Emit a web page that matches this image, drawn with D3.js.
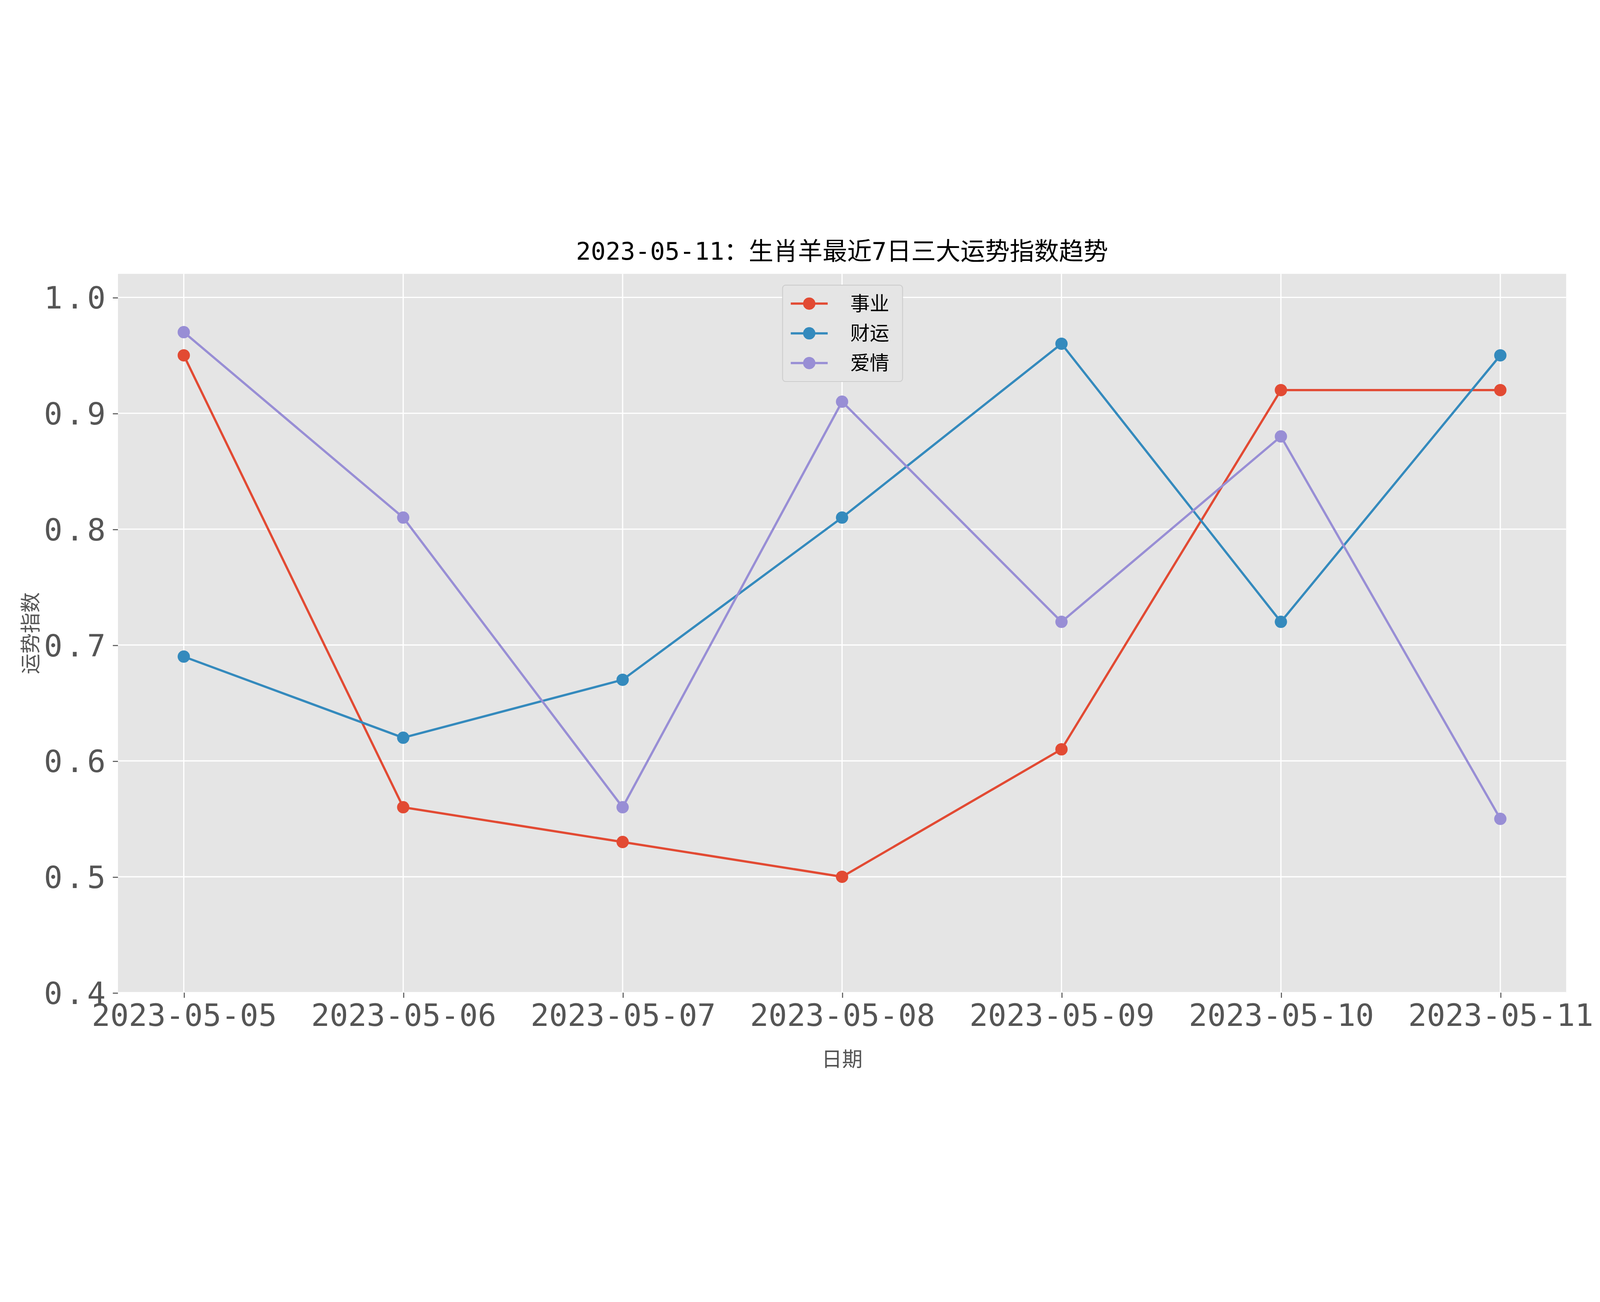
<!DOCTYPE html>
<html><head><meta charset="utf-8">
<script src="https://cdn.jsdelivr.net/npm/d3@7"></script>
<style>html,body{margin:0;padding:0;background:#fff;overflow:hidden}svg{display:block;width:100vw;height:100vh}</style></head>
<body><svg id="c" viewBox="0 0 1560 839.6" preserveAspectRatio="xMidYMid meet"></svg>
<script>
const dates=["2023-05-05","2023-05-06","2023-05-07","2023-05-08","2023-05-09","2023-05-10","2023-05-11"];
const career=[0.95,0.56,0.53,0.50,0.61,0.92,0.92];
const wealth=[0.69,0.62,0.67,0.81,0.96,0.72,0.95];
const love=[0.97,0.81,0.56,0.91,0.72,0.88,0.55];
const yTicks=[0.4,0.5,0.6,0.7,0.8,0.9,1.0];
const series=[{name:"事业",v:career,c:"#E24A33"},{name:"财运",v:wealth,c:"#348ABD"},{name:"爱情",v:love,c:"#988ED5"}];
const F='"DejaVu Sans Mono","Noto Sans CJK SC",sans-serif';
const svg=d3.select("#c");
const L=115,R=1527,T=52,B=753;
const x=d3.scaleLinear().domain([-0.3,6.3]).range([L,R]);
const y=d3.scaleLinear().domain([0.4,1.0203]).range([B,T]);
svg.append("rect").attr("x",L).attr("y",T).attr("width",R-L).attr("height",B-T).attr("fill","#E5E5E5");
const g=svg.append("g");
dates.forEach((d,i)=>g.append("line").attr("x1",x(i)).attr("x2",x(i)).attr("y1",T).attr("y2",B).attr("stroke","#fff").attr("stroke-width",1.2));
yTicks.forEach(t=>g.append("line").attr("x1",L).attr("x2",R).attr("y1",y(t)).attr("y2",y(t)).attr("stroke","#fff").attr("stroke-width",1.2));
const xa=svg.append("g").attr("transform",`translate(0,${B})`).call(d3.axisBottom(x).tickValues(d3.range(7)).tickFormat(i=>dates[i]).tickSize(5).tickPadding(2));
const ya=svg.append("g").attr("transform",`translate(${L},0)`).call(d3.axisLeft(y).tickValues(yTicks).tickFormat(d3.format(".1f")).tickSize(5).tickPadding(4));
[xa,ya].forEach(a=>{a.select(".domain").remove();a.selectAll("line").attr("stroke","#555");a.selectAll("text").attr("fill","#555").attr("font-size",30).attr("font-family",F);});
xa.selectAll("text").attr("dy","0.85em");
ya.selectAll("text").attr("dy","0.35em").attr("letter-spacing",3);
series.forEach(s=>{
  svg.append("path").datum(s.v).attr("fill","none").attr("stroke",s.c).attr("stroke-width",2.2)
   .attr("d",d3.line().x((d,i)=>x(i)).y(d=>y(d)));
  svg.selectAll(null).data(s.v).enter().append("circle").attr("cx",(d,i)=>x(i)).attr("cy",d=>y(d)).attr("r",6).attr("fill",s.c);
});
svg.append("text").attr("x",(L+R)/2).attr("y",38).attr("text-anchor","middle").attr("font-size",24).attr("font-family",F).text("2023-05-11：生肖羊最近7日三大运势指数趋势");
svg.append("text").attr("x",(L+R)/2).attr("y",825).attr("text-anchor","middle").attr("font-size",20).attr("fill","#555").attr("font-family",F).text("日期");
svg.append("text").attr("transform",`translate(37,${(T+B)/2}) rotate(-90)`).attr("text-anchor","middle").attr("font-size",20).attr("fill","#555").attr("font-family",F).text("运势指数");
const lg=svg.append("g").attr("transform","translate(763,63)");
lg.append("rect").attr("width",117).attr("height",94).attr("rx",3).attr("fill","#E5E5E5").attr("stroke","#ccc").attr("stroke-width",0.8);
series.forEach((s,i)=>{
  const yy=18+i*29;
  lg.append("line").attr("x1",8).attr("x2",44).attr("y1",yy).attr("y2",yy).attr("stroke",s.c).attr("stroke-width",2.2);
  lg.append("circle").attr("cx",26).attr("cy",yy).attr("r",6).attr("fill",s.c);
  lg.append("text").attr("x",66).attr("y",yy).attr("dy","0.35em").attr("font-size",19).attr("font-family",F).text(s.name);
});
</script></body></html>
